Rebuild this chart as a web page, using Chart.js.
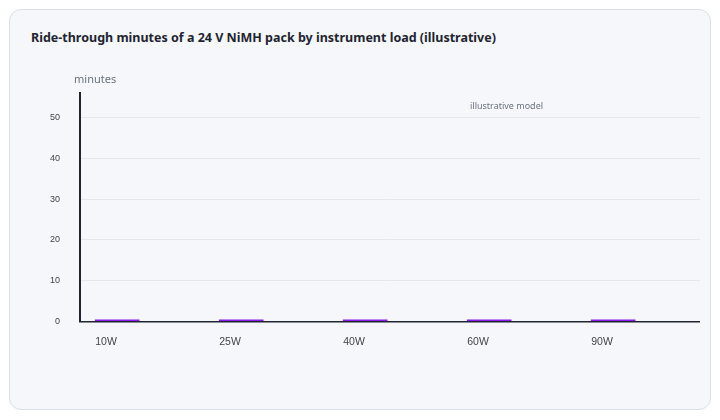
<!DOCTYPE html><html><head><meta charset="utf-8">
<script src="https://cdn.jsdelivr.net/npm/chart.js@4"></script>
<style>
html,body{margin:0;background:#fff;font-family:"Segoe UI","Noto Sans",sans-serif}
.card{position:absolute;left:9px;top:9px;width:702px;height:401px;background:#f5f7fb;border:1.5px solid #d9dee8;border-radius:12px;box-sizing:border-box}
h1{position:absolute;left:21px;top:19px;margin:0;font-size:12.5px;font-weight:700;color:#1f2430}
.wrap{position:absolute;left:20px;top:58px;width:670px;height:286px}
</style></head><body>
<div class="card"><h1>Ride-through minutes of a 24 V NiMH pack by instrument load (illustrative)</h1>
<div class="wrap"><canvas id="c"></canvas></div></div>
<script>
const categories=['10W','25W','40W','60W','90W'];
const minutes=[0,0,0,0,0];
const spare=[null,null,null,null,null];
const yTicks=[0,10,20,30,40,50];
const note={id:'note',afterDraw(ch){const c=ch.ctx,a=ch.chartArea;c.save();c.font='9px "Noto Sans",sans-serif';c.fillStyle='#6b7280';c.textAlign='left';c.fillText('illustrative model',a.left+390,a.top+16);c.font='11px "Noto Sans",sans-serif';c.fillText('minutes',a.left-6,a.top-10);c.restore();}};
new Chart(document.getElementById('c'),{type:'bar',
data:{labels:categories,datasets:[{data:minutes,backgroundColor:'#8a1be8',borderWidth:0,minBarLength:2},{data:spare,backgroundColor:'transparent'}]},
options:{responsive:true,maintainAspectRatio:false,animation:false,
layout:{padding:{top:12,right:0}},
plugins:{legend:{display:false},tooltip:{enabled:false}},
scales:{x:{grid:{display:false},border:{color:'#1f2430',width:1.5},ticks:{color:'#444',font:{size:10.5},padding:6,labelOffset:-36}},
y:{min:0,max:56,afterBuildTicks(s){s.ticks=yTicks.map(v=>({value:v}));},grid:{color:'#e3e7ee',drawTicks:false},border:{color:'#1f2430',width:2},ticks:{color:'#444',font:{size:9},padding:20}}}},
plugins:[note]});
</script></body></html>
